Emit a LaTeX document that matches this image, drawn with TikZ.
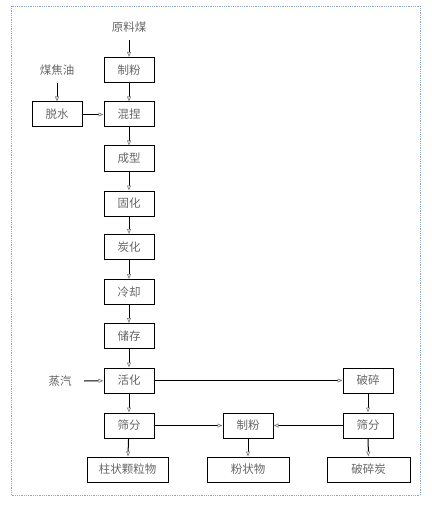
\documentclass[tikz,border=0pt]{standalone}
\usepackage{fontspec}
\newfontfamily\cjk{Noto Sans CJK SC}
\usetikzlibrary{arrows.meta}
\tikzset{
    stage/.style = {
        draw      = black,
        line width = 1pt,
        minimum width  = 50pt,
        minimum height = 25pt,
        inner sep = 0pt,
        text      = black!60,
        font      = \cjk\fontsize{11.5}{13}\selectfont,
    },
    feed/.style = {
        text      = black!60,
        font      = \cjk\fontsize{11.5}{13}\selectfont,
    },
    flow/.style = {
        line width = 1pt,
        draw       = black,
        -{Triangle[open, length=5pt, width=4pt, color=black!50, line width=0.7pt]},
    }
}

\begin{document}
\begin{tikzpicture}[x=1pt, y=-1pt]
  % fix the page to the size of the reference
  \path[use as bounding box] (0,0) rectangle (431,505);
  \draw[densely dotted, line width=0.8pt, color={rgb,255:red,140;green,165;blue,200}]
    (11,6) rectangle (420,495);

  % main column
  \node[feed]  (coal)   at (129,27)    {原料煤};
  \node[stage] (mill)   at (129,70)    {制粉};
  \node[stage] (knead)  at (129,114.5) {混捏};
  \node[stage] (shape)  at (129,158.5) {成型};
  \node[stage] (cure)   at (129,203.5) {固化};
  \node[stage] (carb)   at (129,247)   {炭化};
  \node[stage] (cool)   at (129,292)   {冷却};
  \node[stage] (store)  at (129,336)   {储存};
  \node[stage] (act)    at (129,380.5) {活化};
  \node[stage] (sieve)  at (129,425.5) {筛分};
  \node[stage, minimum width=81pt] (pellet) at (127.5,469.5) {柱状颗粒物};

  % side feeds
  \node[feed]  (tar)    at (57,70)     {煤焦油};
  \node[stage] (dry)    at (57,114.5)  {脱水};
  \node[feed]  (steam)  at (60,381)    {蒸汽};

  % right branch
  \node[stage] (crush)  at (368,380.5) {破碎};
  \node[stage] (sieveb) at (368,425.5) {筛分};
  \node[stage] (millb)  at (248,425.5) {制粉};
  \node[stage, minimum width=82pt] (powder) at (248,469.5) {粉状物};
  \node[stage, minimum width=83pt] (broken) at (368.5,469.5) {破碎炭};

  \draw[flow] (coal.south) ++(0,4) -- (mill);
  \draw[flow] (mill) -- (knead);
  \draw[flow] (knead) -- (shape);
  \draw[flow] (shape) -- (cure);
  \draw[flow] (cure) -- (carb);
  \draw[flow] (carb) -- (cool);
  \draw[flow] (cool) -- (store);
  \draw[flow] (store) -- (act);
  \draw[flow] (act) -- (sieve);
  \draw[flow] (sieve) -- (pellet);

  \draw[flow] (tar.south) ++(0,4) -- (dry);
  \draw[flow] (dry) -- (knead);
  \draw[flow] (steam.east) ++(9,0) -- (act);

  \draw[flow] (act) -- (crush);
  \draw[flow] (crush) -- (sieveb);
  \draw[flow] (sieveb) -- (millb);
  \draw[flow] (sieve) -- (millb);
  \draw[flow] (millb) -- (powder);
  \draw[flow] (sieveb) -- (broken);
\end{tikzpicture}
\end{document}
